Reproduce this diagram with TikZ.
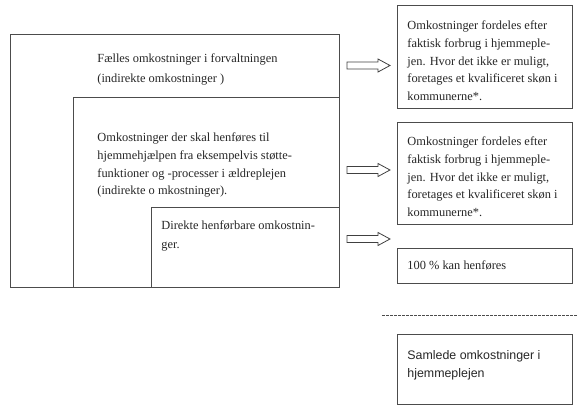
\documentclass[tikz,border=0pt]{standalone}
\usepackage{fontspec}
\setmainfont{Liberation Serif}
\newfontfamily\arialfont{Liberation Sans}
\usetikzlibrary{positioning}

\begin{document}
\begin{tikzpicture}[x=1pt, y=-1pt, line width=0.8pt]
	% Stili comuni
	\tikzset{
		ramme/.style={
			draw=black!70,
			inner sep=0pt,
			outer sep=0pt
		},
		tekst/.style={
			inner sep=0pt,
			align=left,
			anchor=base west,
			text=black!85,
			font=\fontsize{12.4}{17.6}\selectfont
		},
		pil/.style={
			draw=black!75,
			line join=miter
		}
	}
	\useasboundingbox (0,0) rectangle (584,419);
	
	% Bokse til venstre (inden i hinanden)
	\node[ramme, minimum width=329pt, minimum height=253pt, anchor=north west] (felles) at (10,34) {};
	\node[ramme, minimum width=266pt, minimum height=190pt, anchor=south east] (stoette) at (felles.south east) {};
	\node[ramme, minimum width=188pt, minimum height=80pt, anchor=south east] (direkte) at (felles.south east) {};
	
	% (base = sidste linje)
	\node[tekst, font=\fontsize{12.4}{20}\selectfont] (fellesTxt) at ([xshift=87pt, yshift=-49pt]felles.north west)
		{F\ae lles omkostninger i forvaltningen\\(indirekte omkostninger )};
	\node[tekst] (stoetteTxt) at ([xshift=24pt, yshift=-97.8pt]stoette.north west)
		{Omkostninger der skal henføres til\\hjemmehjælpen fra eksempelvis støtte-\\funktioner og -processer i ældreplejen\\(indirekte o mkostninger).};
	\node[tekst, font=\fontsize{12.4}{19}\selectfont] (direkteTxt) at ([xshift=10pt, yshift=-42pt]direkte.north west)
		{Direkte henførbare omkostnin-\\ger.};
	
	% Bokse til hoejre
	\node[ramme, minimum width=175pt, minimum height=103pt, anchor=north west] (fordelA) at (397,5) {};
	\node[ramme, minimum width=175pt, minimum height=102pt, anchor=north west] (fordelB) at (397,122) {};
	\node[ramme, minimum width=175pt, minimum height=35pt, anchor=north west] (henfoer) at (397,248) {};
	\node[ramme, minimum width=175pt, minimum height=70pt, anchor=north west] (samlet) at (397,334) {};
	
	\node[tekst] (fordelATxt) at ([xshift=10pt, yshift=-95.4pt]fordelA.north west)
		{Omkostninger fordeles efter\\faktisk forbrug i hjemmeple-\\jen. Hvor det ikke er muligt,\\foretages et kvalificeret skøn i\\kommunerne*.};
	\node[tekst] (fordelBTxt) at ([xshift=10pt, yshift=-94.4pt]fordelB.north west)
		{Omkostninger fordeles efter\\faktisk forbrug i hjemmeple-\\jen. Hvor det ikke er muligt,\\foretages et kvalificeret skøn i\\kommunerne*.};
	\node[tekst] (henfoerTxt) at ([xshift=10pt, yshift=-22pt]henfoer.north west)
		{100 \% kan henføres};
	\node[tekst, font=\arialfont\fontsize{12.4}{17.5}\selectfont] (samletTxt) at ([xshift=10pt, yshift=-43.5pt]samlet.north west)
		{Samlede omkostninger i\\hjemmeplejen};
	
	% Pile (hule blokpile)
	\coordinate (pil1) at ([xshift=8pt]felles.east |- 0,65.5);
	\coordinate (pil2) at ([xshift=8pt]felles.east |- 0,170);
	\coordinate (pil3) at ([xshift=8pt]felles.east |- 0,239);
	\draw[pil] (pil1) ++(0,-3.5) -- ++(31,0) -- ++(0,-3) -- ++(12,6.5) -- ++(-12,6.5) -- ++(0,-3) -- ++(-31,0) -- cycle;
	\draw[pil] (pil2) ++(0,-3.5) -- ++(31,0) -- ++(0,-3) -- ++(12,6.5) -- ++(-12,6.5) -- ++(0,-3) -- ++(-31,0) -- cycle;
	\draw[pil] (pil3) ++(0,-3.5) -- ++(31,0) -- ++(0,-3) -- ++(12,6.5) -- ++(-12,6.5) -- ++(0,-3) -- ++(-31,0) -- cycle;
	
	% Stiplet skillelinje
	\coordinate (stiplA) at (382,315);
	\coordinate (stiplB) at (578,315);
	\draw[black!70, line width=0.7pt, dash pattern=on 2.5pt off 1.5pt] (stiplA) -- (stiplB);
\end{tikzpicture}
\end{document}
